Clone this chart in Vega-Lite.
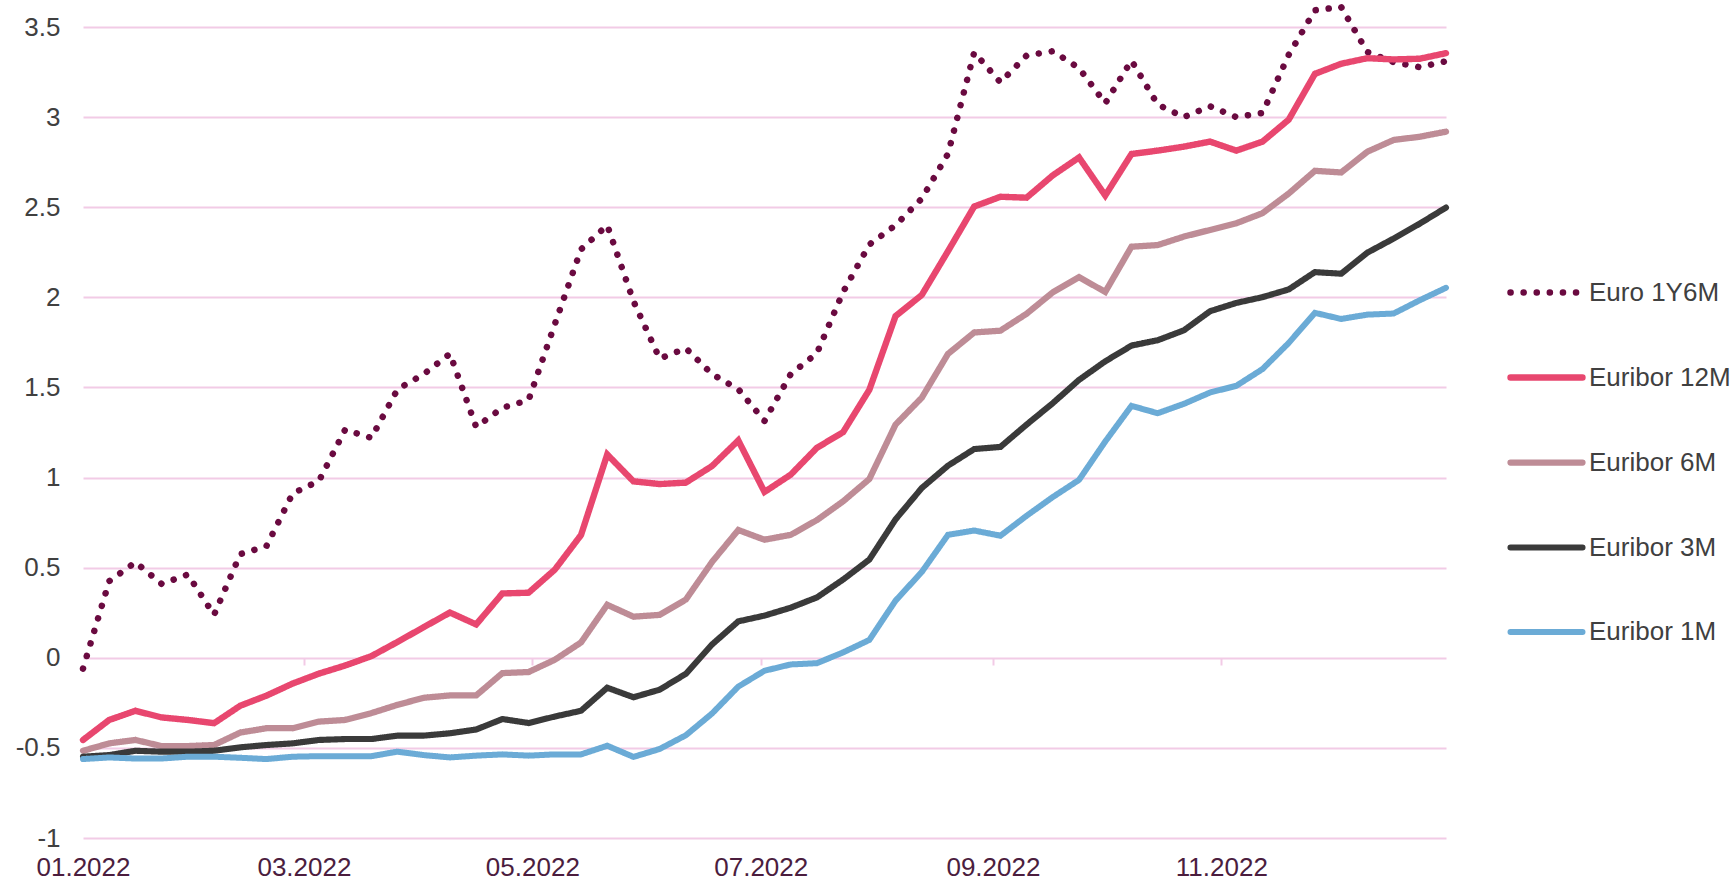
{
  "$schema": "https://vega.github.io/schema/vega-lite/v6.json",
  "autosize": {"type": "none"},
  "padding": {"left": 83, "top": 27, "right": 285, "bottom": 45},
  "width": 1363,
  "height": 811,
  "background": "white",
  "config": {
    "view": {"stroke": null},
    "font": "Liberation Sans"
  },
  "data": {
    "values": [
      {"date": "2022-01-01", "Euro 1Y6M": -0.06, "Euribor 12M": -0.456, "Euribor 6M": -0.516, "Euribor 3M": -0.549, "Euribor 1M": -0.562},
      {"date": "2022-01-08", "Euro 1Y6M": 0.425, "Euribor 12M": -0.345, "Euribor 6M": -0.475, "Euribor 3M": -0.54, "Euribor 1M": -0.553},
      {"date": "2022-01-15", "Euro 1Y6M": 0.53, "Euribor 12M": -0.294, "Euribor 6M": -0.456, "Euribor 3M": -0.516, "Euribor 1M": -0.559},
      {"date": "2022-01-22", "Euro 1Y6M": 0.41, "Euribor 12M": -0.331, "Euribor 6M": -0.49, "Euribor 3M": -0.521, "Euribor 1M": -0.559},
      {"date": "2022-01-29", "Euro 1Y6M": 0.462, "Euribor 12M": -0.345, "Euribor 6M": -0.49, "Euribor 3M": -0.521, "Euribor 1M": -0.549},
      {"date": "2022-02-05", "Euro 1Y6M": 0.238, "Euribor 12M": -0.363, "Euribor 6M": -0.484, "Euribor 3M": -0.516, "Euribor 1M": -0.549},
      {"date": "2022-02-12", "Euro 1Y6M": 0.575, "Euribor 12M": -0.266, "Euribor 6M": -0.415, "Euribor 3M": -0.497, "Euribor 1M": -0.555},
      {"date": "2022-02-19", "Euro 1Y6M": 0.62, "Euribor 12M": -0.21, "Euribor 6M": -0.391, "Euribor 3M": -0.484, "Euribor 1M": -0.562},
      {"date": "2022-02-26", "Euro 1Y6M": 0.912, "Euribor 12M": -0.143, "Euribor 6M": -0.391, "Euribor 3M": -0.475, "Euribor 1M": -0.549},
      {"date": "2022-03-05", "Euro 1Y6M": 0.981, "Euribor 12M": -0.088, "Euribor 6M": -0.354, "Euribor 3M": -0.456, "Euribor 1M": -0.546},
      {"date": "2022-03-12", "Euro 1Y6M": 1.266, "Euribor 12M": -0.043, "Euribor 6M": -0.345, "Euribor 3M": -0.451, "Euribor 1M": -0.546},
      {"date": "2022-03-19", "Euro 1Y6M": 1.22, "Euribor 12M": 0.009, "Euribor 6M": -0.307, "Euribor 3M": -0.451, "Euribor 1M": -0.546},
      {"date": "2022-03-26", "Euro 1Y6M": 1.49, "Euribor 12M": 0.088, "Euribor 6M": -0.261, "Euribor 3M": -0.432, "Euribor 1M": -0.521},
      {"date": "2022-04-02", "Euro 1Y6M": 1.574, "Euribor 12M": 0.17, "Euribor 6M": -0.222, "Euribor 3M": -0.432, "Euribor 1M": -0.54},
      {"date": "2022-04-09", "Euro 1Y6M": 1.687, "Euribor 12M": 0.251, "Euribor 6M": -0.209, "Euribor 3M": -0.419, "Euribor 1M": -0.553},
      {"date": "2022-04-16", "Euro 1Y6M": 1.281, "Euribor 12M": 0.185, "Euribor 6M": -0.209, "Euribor 3M": -0.398, "Euribor 1M": -0.543},
      {"date": "2022-04-23", "Euro 1Y6M": 1.387, "Euribor 12M": 0.357, "Euribor 6M": -0.085, "Euribor 3M": -0.34, "Euribor 1M": -0.536},
      {"date": "2022-04-30", "Euro 1Y6M": 1.43, "Euribor 12M": 0.361, "Euribor 6M": -0.079, "Euribor 3M": -0.362, "Euribor 1M": -0.543},
      {"date": "2022-05-07", "Euro 1Y6M": 1.851, "Euribor 12M": 0.489, "Euribor 6M": -0.011, "Euribor 3M": -0.326, "Euribor 1M": -0.536},
      {"date": "2022-05-14", "Euro 1Y6M": 2.266, "Euribor 12M": 0.681, "Euribor 6M": 0.085, "Euribor 3M": -0.294, "Euribor 1M": -0.536},
      {"date": "2022-05-21", "Euro 1Y6M": 2.4, "Euribor 12M": 1.128, "Euribor 6M": 0.294, "Euribor 3M": -0.166, "Euribor 1M": -0.488},
      {"date": "2022-05-28", "Euro 1Y6M": 1.979, "Euribor 12M": 0.979, "Euribor 6M": 0.228, "Euribor 3M": -0.219, "Euribor 1M": -0.55},
      {"date": "2022-06-04", "Euro 1Y6M": 1.66, "Euribor 12M": 0.964, "Euribor 6M": 0.238, "Euribor 3M": -0.177, "Euribor 1M": -0.506},
      {"date": "2022-06-11", "Euro 1Y6M": 1.717, "Euribor 12M": 0.972, "Euribor 6M": 0.323, "Euribor 3M": -0.089, "Euribor 1M": -0.43},
      {"date": "2022-06-18", "Euro 1Y6M": 1.574, "Euribor 12M": 1.064, "Euribor 6M": 0.532, "Euribor 3M": 0.074, "Euribor 1M": -0.309},
      {"date": "2022-06-25", "Euro 1Y6M": 1.49, "Euribor 12M": 1.206, "Euribor 6M": 0.709, "Euribor 3M": 0.202, "Euribor 1M": -0.16},
      {"date": "2022-07-02", "Euro 1Y6M": 1.314, "Euribor 12M": 0.92, "Euribor 6M": 0.655, "Euribor 3M": 0.234, "Euribor 1M": -0.072},
      {"date": "2022-07-09", "Euro 1Y6M": 1.574, "Euribor 12M": 1.016, "Euribor 6M": 0.682, "Euribor 3M": 0.278, "Euribor 1M": -0.037},
      {"date": "2022-07-16", "Euro 1Y6M": 1.69, "Euribor 12M": 1.165, "Euribor 6M": 0.764, "Euribor 3M": 0.335, "Euribor 1M": -0.03},
      {"date": "2022-07-23", "Euro 1Y6M": 2.03, "Euribor 12M": 1.252, "Euribor 6M": 0.868, "Euribor 3M": 0.434, "Euribor 1M": 0.03},
      {"date": "2022-07-30", "Euro 1Y6M": 2.293, "Euribor 12M": 1.487, "Euribor 6M": 0.992, "Euribor 3M": 0.545, "Euribor 1M": 0.099},
      {"date": "2022-08-06", "Euro 1Y6M": 2.4, "Euribor 12M": 1.896, "Euribor 6M": 1.294, "Euribor 3M": 0.768, "Euribor 1M": 0.317},
      {"date": "2022-08-13", "Euro 1Y6M": 2.548, "Euribor 12M": 2.013, "Euribor 6M": 1.443, "Euribor 3M": 0.942, "Euribor 1M": 0.476},
      {"date": "2022-08-20", "Euro 1Y6M": 2.796, "Euribor 12M": 2.256, "Euribor 6M": 1.686, "Euribor 3M": 1.066, "Euribor 1M": 0.682},
      {"date": "2022-08-27", "Euro 1Y6M": 3.359, "Euribor 12M": 2.504, "Euribor 6M": 1.805, "Euribor 3M": 1.158, "Euribor 1M": 0.706},
      {"date": "2022-09-03", "Euro 1Y6M": 3.193, "Euribor 12M": 2.558, "Euribor 6M": 1.815, "Euribor 3M": 1.17, "Euribor 1M": 0.677},
      {"date": "2022-09-10", "Euro 1Y6M": 3.342, "Euribor 12M": 2.553, "Euribor 6M": 1.909, "Euribor 3M": 1.294, "Euribor 1M": 0.788},
      {"date": "2022-09-17", "Euro 1Y6M": 3.366, "Euribor 12M": 2.677, "Euribor 6M": 2.028, "Euribor 3M": 1.413, "Euribor 1M": 0.892},
      {"date": "2022-09-24", "Euro 1Y6M": 3.272, "Euribor 12M": 2.776, "Euribor 6M": 2.112, "Euribor 3M": 1.542, "Euribor 1M": 0.987},
      {"date": "2022-10-01", "Euro 1Y6M": 3.077, "Euribor 12M": 2.565, "Euribor 6M": 2.03, "Euribor 3M": 1.645, "Euribor 1M": 1.2},
      {"date": "2022-10-08", "Euro 1Y6M": 3.314, "Euribor 12M": 2.795, "Euribor 6M": 2.281, "Euribor 3M": 1.732, "Euribor 1M": 1.398},
      {"date": "2022-10-15", "Euro 1Y6M": 3.07, "Euribor 12M": 2.814, "Euribor 6M": 2.29, "Euribor 3M": 1.762, "Euribor 1M": 1.357},
      {"date": "2022-10-22", "Euro 1Y6M": 3.0, "Euribor 12M": 2.836, "Euribor 6M": 2.337, "Euribor 3M": 1.817, "Euribor 1M": 1.409},
      {"date": "2022-10-29", "Euro 1Y6M": 3.06, "Euribor 12M": 2.864, "Euribor 6M": 2.374, "Euribor 3M": 1.923, "Euribor 1M": 1.472},
      {"date": "2022-11-05", "Euro 1Y6M": 3.0, "Euribor 12M": 2.814, "Euribor 6M": 2.411, "Euribor 3M": 1.969, "Euribor 1M": 1.509},
      {"date": "2022-11-12", "Euro 1Y6M": 3.023, "Euribor 12M": 2.864, "Euribor 6M": 2.467, "Euribor 3M": 2.001, "Euribor 1M": 1.602},
      {"date": "2022-11-19", "Euro 1Y6M": 3.346, "Euribor 12M": 2.986, "Euribor 6M": 2.576, "Euribor 3M": 2.044, "Euribor 1M": 1.747},
      {"date": "2022-11-26", "Euro 1Y6M": 3.593, "Euribor 12M": 3.24, "Euribor 6M": 2.702, "Euribor 3M": 2.14, "Euribor 1M": 1.914},
      {"date": "2022-12-03", "Euro 1Y6M": 3.611, "Euribor 12M": 3.296, "Euribor 6M": 2.693, "Euribor 3M": 2.131, "Euribor 1M": 1.88},
      {"date": "2022-12-10", "Euro 1Y6M": 3.361, "Euribor 12M": 3.327, "Euribor 6M": 2.808, "Euribor 3M": 2.248, "Euribor 1M": 1.904},
      {"date": "2022-12-17", "Euro 1Y6M": 3.305, "Euribor 12M": 3.32, "Euribor 6M": 2.873, "Euribor 3M": 2.326, "Euribor 1M": 1.91},
      {"date": "2022-12-24", "Euro 1Y6M": 3.277, "Euribor 12M": 3.324, "Euribor 6M": 2.891, "Euribor 3M": 2.409, "Euribor 1M": 1.984},
      {"date": "2022-12-31", "Euro 1Y6M": 3.31, "Euribor 12M": 3.355, "Euribor 6M": 2.919, "Euribor 3M": 2.498, "Euribor 1M": 2.053}
    ]
  },
  "transform": [
    {"fold": ["Euro 1Y6M", "Euribor 12M", "Euribor 6M", "Euribor 3M", "Euribor 1M"], "as": ["series", "value"]}
  ],
  "layer": [
    {
      "mark": {"type": "line", "strokeCap": "round", "strokeJoin": "miter", "clip": false},
      "encoding": {
        "x": {
          "field": "date", "type": "temporal",
          "scale": {"type": "utc", "domain": [{"year": 2022, "month": 1, "date": 1, "utc": true}, {"year": 2022, "month": 12, "date": 31, "utc": true}]},
          "axis": {
            "title": null, "orient": "bottom", "domain": false, "ticks": false, "grid": false,
            "values": [
              {"year": 2022, "month": 1, "date": 1, "utc": true},
              {"year": 2022, "month": 3, "date": 1, "utc": true},
              {"year": 2022, "month": 5, "date": 1, "utc": true},
              {"year": 2022, "month": 7, "date": 1, "utc": true},
              {"year": 2022, "month": 9, "date": 1, "utc": true},
              {"year": 2022, "month": 11, "date": 1, "utc": true}
            ],
            "format": "%m.%Y", "labelFont": "Liberation Sans", "labelFontSize": 26, "labelColor": "#4B1D3E",
            "labelPadding": 16, "labelFlush": false, "labelOverlap": false
          }
        },
        "y": {
          "field": "value", "type": "quantitative",
          "scale": {"domain": [-1, 3.5], "nice": false, "zero": false},
          "axis": {
            "title": null, "values": [-1, -0.5, 0, 0.5, 1, 1.5, 2, 2.5, 3, 3.5],
            "labelExpr": "'' + datum.value", "domain": false, "ticks": false,
            "grid": true, "gridColor": "#F2CBE6", "gridWidth": 2,
            "labelFont": "Liberation Sans", "labelFontSize": 26, "labelColor": "#404040", "labelPadding": 23
          }
        },
        "color": {
          "field": "series", "type": "nominal",
          "scale": {
            "domain": ["Euro 1Y6M", "Euribor 12M", "Euribor 6M", "Euribor 3M", "Euribor 1M"],
            "range": ["#6A0A40", "#E8476F", "#BE8C96", "#3A3A3A", "#6BABD6"]
          },
          "legend": {
            "title": null, "orient": "none", "legendX": 1424, "legendY": 226,
            "symbolType": "stroke", "symbolSize": 5184, "symbolStrokeWidth": 6,
            "labelFont": "Liberation Sans", "labelFontSize": 26, "labelColor": "#404040",
            "labelOffset": 3, "rowPadding": 32, "padding": 0,
            "encode": {"symbols": {"update": {"strokeCap": {"value": "round"}}}}
          }
        },
        "strokeDash": {
          "field": "series", "type": "nominal",
          "scale": {
            "domain": ["Euro 1Y6M", "Euribor 12M", "Euribor 6M", "Euribor 3M", "Euribor 1M"],
            "range": [[0.1, 13], [1, 0], [1, 0], [1, 0], [1, 0]]
          },
          "legend": null
        },
        "strokeWidth": {
          "field": "series", "type": "nominal",
          "scale": {
            "domain": ["Euro 1Y6M", "Euribor 12M", "Euribor 6M", "Euribor 3M", "Euribor 1M"],
            "range": [6.5, 6, 6, 6, 6]
          },
          "legend": null
        },
        "order": {"field": "date", "type": "temporal"}
      }
    },
    {
      "mark": {"type": "point", "opacity": 0},
      "encoding": {
        "x": {
          "field": "date", "type": "temporal",
          "axis": {
            "title": null, "orient": "bottom", "offset": -180, "domain": false, "labels": false, "grid": false,
            "ticks": true, "tickColor": "#F2CBE6", "tickWidth": 2, "tickSize": 7,
            "values": [
              {"year": 2022, "month": 3, "date": 1, "utc": true},
              {"year": 2022, "month": 5, "date": 1, "utc": true},
              {"year": 2022, "month": 7, "date": 1, "utc": true},
              {"year": 2022, "month": 9, "date": 1, "utc": true},
              {"year": 2022, "month": 11, "date": 1, "utc": true}
            ]
          }
        }
      }
    }
  ],
  "resolve": {"axis": {"x": "independent"}}
}
